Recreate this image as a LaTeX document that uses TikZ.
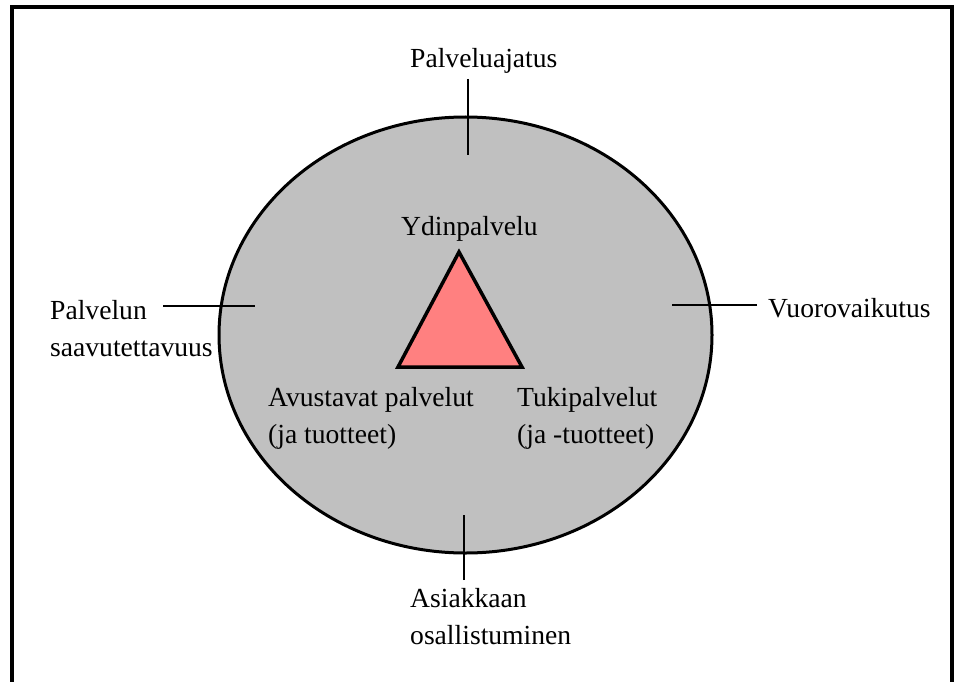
\documentclass[tikz,border=0pt]{standalone}
\usepackage{fontspec}
\setmainfont{Liberation Serif}
\usepackage{xcolor}
\usetikzlibrary{positioning, calc}
\definecolor{kehagray}{HTML}{C0C0C0}
\definecolor{ydinred}{HTML}{FF8080}

\begin{document}
\begin{tikzpicture}[x=1pt, y=-1pt,
    teksti/.style={font=\fontsize{27.6}{36.5}\selectfont, inner sep=0pt, anchor=base west, align=left},
    viiva/.style={line width=1.5pt}]
      \useasboundingbox (0, 0) rectangle (955, 682);
      \draw[line width=4pt] (11.5, 690) -- (11.5, 7) -- (952, 7) -- (952, 690);

      \draw[line width=3pt, fill=kehagray] (465.5, 335) ellipse [x radius=246.5, y radius=218];
      \draw[line width=3.5pt, line join=miter, fill=ydinred] (459, 252) -- (398, 367) -- (522, 367) -- cycle;

      % monirivisissa solmuissa base = viimeisen rivin perusviiva
      \node[teksti] (ajatus) at (410, 68) {Palveluajatus};
      \node[teksti] (ydin) at (401, 235) {Ydinpalvelu};
      \node[teksti] (saavutettavuus) at (50, 356) {Palvelun\\saavutettavuus};
      \node[teksti] (vuoro) at (768, 317) {Vuorovaikutus};
      \node[teksti] (avustavat) at (268, 443) {Avustavat palvelut\\(ja tuotteet)};
      \node[teksti] (tuki) at (517, 443) {Tukipalvelut\\(ja -tuotteet)};
      \node[teksti] (asiakas) at (410, 644) {Asiakkaan\\osallistuminen};

      \coordinate (ajatus-a) at (468, 79);
      \coordinate (ajatus-b) at (468, 155);
      \coordinate (saav-a) at (163, 306);
      \coordinate (saav-b) at (255, 306);
      \coordinate (vuoro-a) at (757, 305);
      \coordinate (vuoro-b) at (672, 305);
      \coordinate (asiakas-a) at (464, 580);
      \coordinate (asiakas-b) at (464, 515);

      \draw[viiva] (ajatus-a) -- (ajatus-b);
      \draw[viiva] (saav-a) -- (saav-b);
      \draw[viiva] (vuoro-a) -- (vuoro-b);
      \draw[viiva] (asiakas-a) -- (asiakas-b);
    \end{tikzpicture}
\end{document}
